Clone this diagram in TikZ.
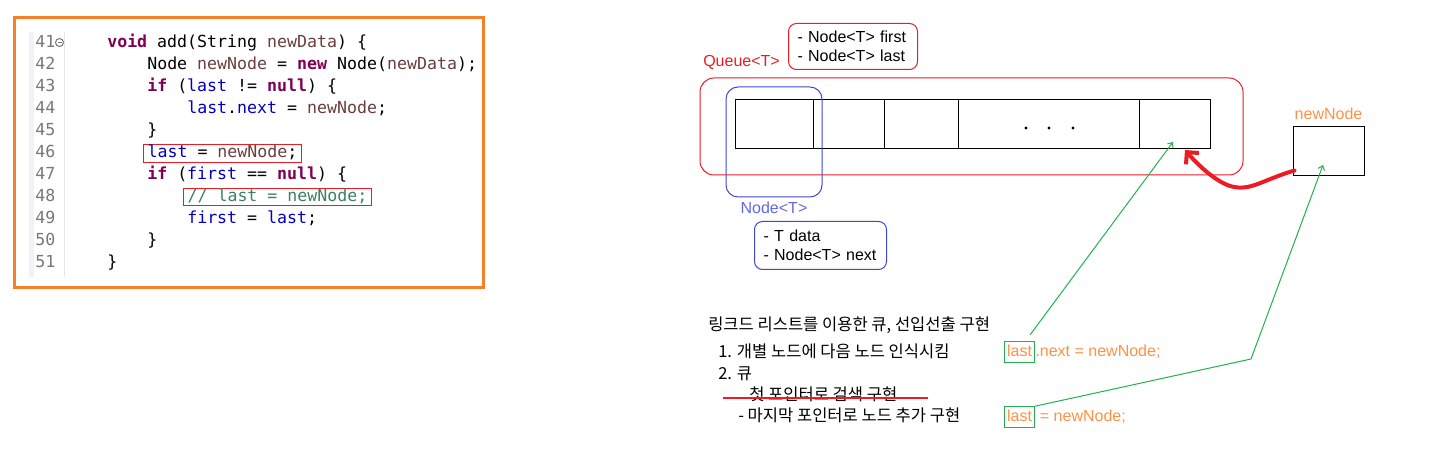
\documentclass[tikz,border=0pt]{standalone}
\usepackage{fontspec}
\setsansfont{Liberation Sans}
\setmonofont{DejaVu Sans Mono}
\newfontfamily\krfont{Noto Sans CJK KR}
\usepackage{xcolor}
\usetikzlibrary{arrows.meta, positioning, calc}

\definecolor{frameorange}{RGB}{245,128,40}
\definecolor{pred}{RGB}{237,28,36}
\definecolor{pblue}{RGB}{63,72,204}
\definecolor{nblue}{RGB}{95,105,230}
\definecolor{porange}{RGB}{255,145,70}
\definecolor{pgreen}{RGB}{34,177,76}
\definecolor{jkwc}{RGB}{127,0,85}
\definecolor{jfldc}{RGB}{0,0,192}
\definecolor{jvarc}{RGB}{106,62,62}
\definecolor{jcmtc}{RGB}{63,127,95}
\definecolor{lnumc}{RGB}{120,120,120}

\newcommand{\jkw}[1]{\textcolor{jkwc}{\textbf{#1}}}
\newcommand{\jfld}[1]{\textcolor{jfldc}{#1}}
\newcommand{\jvar}[1]{\textcolor{jvarc}{#1}}
\newcommand{\jcmt}[1]{\textcolor{jcmtc}{#1}}
\newcommand{\upx}{0.75pt}

\begin{document}
\begin{tikzpicture}[
    x=\upx, y=-\upx,
    code/.style={
        anchor=west,
        inner sep=0pt,
        font=\ttfamily\fontsize{12.45}{15}\selectfont,
        text height=0.75em,
        text depth=0.1em
    },
    hlcode/.style={
        code,
        draw=pred,
        line width=\upx,
        inner xsep=3.4pt,
        inner ysep=2.2pt
    },
    lnum/.style={code, text=lnumc},
    lbl/.style={
        inner sep=0pt,
        font=\sffamily\fontsize{12}{14}\selectfont,
        text height=0.75em,
        text depth=0.1em
    },
    kr/.style={
        anchor=west,
        inner sep=0pt,
        font=\krfont\fontsize{12.4}{15}\selectfont,
        text height=0.85em,
        text depth=0.1em
    },
    fieldbox/.style={
        rectangle,
        rounded corners=6pt,
        line width=\upx,
        align=left,
        anchor=north west,
        inner xsep=6.75pt,
        font=\sffamily\fontsize{12}{13.9}\selectfont
    },
    cell/.style={
        rectangle,
        draw,
        line width=\upx,
        minimum height=36.75pt,
        inner sep=0pt,
        outer sep=0pt
    },
    ptrbox/.style={
        lbl,
        anchor=west,
        draw=pgreen,
        line width=\upx,
        inner xsep=2pt,
        inner ysep=3.5pt
    },
    ptr/.style={
        -{Straight Barb[length=3pt, width=5pt]},
        draw=pgreen,
        line width=\upx
    },
    push/.style={
        -{Straight Barb[length=6.5pt, width=13pt]},
        draw=pred,
        line width=3pt,
        line cap=round
    },
    strike/.style={
        draw=pred,
        line width=1pt
    }
]
\useasboundingbox (0,0) rectangle (1450,466);

% Code listing
\draw[frameorange, line width=2.25pt] (14.5,17.5) rectangle (483.5,287.5);
\fill[gray!10] (29,32) rectangle (34,277);
\draw[gray!20, line width=\upx] (64,32) -- (64,277);

\node[lnum] (ln41) at (35,43) {41};
\node[lnum] (ln42) at (35,65) {42};
\node[lnum] (ln43) at (35,87) {43};
\node[lnum] (ln44) at (35,109) {44};
\node[lnum] (ln45) at (35,131) {45};
\node[lnum] (ln46) at (35,153) {46};
\node[lnum] (ln47) at (35,175) {47};
\node[lnum] (ln48) at (35,197) {48};
\node[lnum] (ln49) at (35,219) {49};
\node[lnum] (ln50) at (35,241) {50};
\node[lnum] (ln51) at (35,263) {51};
\node[circle, draw=lnumc, line width=\upx, inner sep=0pt, minimum size=6pt] (fold) at (59.5,42.5) {};
\draw[lnumc, line width=\upx] ($(fold.center)+(-2,0)$) -- ($(fold.center)+(2,0)$);

\node[code] (c41) at (107,43) {\jkw{void} add(String \jvar{newData}) \{};
\node[code] (c42) at (147,65) {Node \jvar{newNode} = \jkw{new} Node(\jvar{newData});};
\node[code] (c43) at (147,87) {\jkw{if} (\jfld{last} != \jkw{null}) \{};
\node[code] (c44) at (187,109) {\jfld{last}.\jfld{next} = \jvar{newNode};};
\node[code] (c45) at (147,131) {\}};
\node[hlcode] (c46) at (142.5,153.5) {\jfld{last} = \jvar{newNode};};
\node[code] (c47) at (147,175) {\jkw{if} (\jfld{first} == \jkw{null}) \{};
\node[hlcode] (c48) at (182.5,197) {\jcmt{// last = newNode;}};
\node[code] (c49) at (187,219) {\jfld{first} = \jfld{last};};
\node[code] (c50) at (147,241) {\}};
\node[code] (c51) at (107,263) {\}};

% Queue<T>
\node[lbl, anchor=west, text=pred] (qlabel) at (703,62) {Queue<T>};
\node[fieldbox, draw=pred, text width=83.25pt, minimum height=34.5pt] (qfields) at (788,23) {- Node<T> first\\- Node<T> last};
\node[draw=pred, line width=\upx, rounded corners=10.5pt, minimum width=407.25pt, minimum height=72.75pt, inner sep=0pt] (queue) at (971.5,126.5) {};

% cells of the list
\node[cell, anchor=west, minimum width=58.5pt] (cell1) at (735,124.5) {};
\node[cell, minimum width=53.25pt, right=0pt of cell1] (cell2) {};
\node[cell, minimum width=55.5pt, right=0pt of cell2] (cell3) {};
\node[cell, minimum width=135.75pt, right=0pt of cell3] (cell4) {};
\node[cell, minimum width=53.25pt, right=0pt of cell4] (cell5) {};
\fill ($(cell4.center)+(-22.5,3.5)$) circle[radius=1.3pt];
\fill ($(cell4.center)+(0.5,3.5)$) circle[radius=1.3pt];
\fill ($(cell4.center)+(24.5,3.5)$) circle[radius=1.3pt];

% Node<T>
\node[draw=pblue, line width=\upx, rounded corners=9pt, minimum width=72pt, minimum height=82.5pt, inner sep=0pt] (nodebox) at (774,142) {};
\node[lbl, text=nblue, below=4.5pt of nodebox] (nlabel) {Node<T>};
\node[fieldbox, draw=pblue, text width=85.5pt, minimum height=36pt] (nfields) at (754,221) {- T data\\- Node<T> next};

% newNode
\node[draw, line width=\upx, minimum width=53.25pt, minimum height=36.75pt, inner sep=0pt] (newbox) at (1328.5,151.5) {};
\node[lbl, text=porange, above=3.75pt of newbox] (newlabel) {newNode};

% notes
\node[kr] (title) at (708,326) {링크드 리스트를 이용한 큐, 선입선출 구현};
\node[kr] (step1) at (718,353) {1. 개별 노드에 다음 노드 인식시킴};
\node[kr] (step2) at (718,375) {2. 큐};
\node[kr] (step2a) at (749,396) {첫 포인터로 검색 구현};
\node[kr] (step2b) at (738,417) {- 마지막 포인터로 노드 추가 구현};
\draw[strike] ($(step2a.west)+(-26,2)$) -- ($(step2a.east)+(30,2)$);

\node[ptrbox, text=porange] (lastA) at (1004,352) {last};
\node[lbl, anchor=west, text=porange] (nextA) at (lastA.east) {.next = newNode;};
\node[ptrbox, text=porange] (lastB) at (1004,417) {last};
\node[lbl, anchor=west, text=porange] (restB) at (lastB.east) {\ = newNode;};

% pointers
\coordinate (tipA) at ($(cell5.south)+(-1.5,-7)$);
\coordinate (tipB) at ($(newbox.center)+(-5.5,13.5)$);
\coordinate (gbend) at (1251,359);
\coordinate (tipR) at ($(cell5.south)+(10.5,1)$);
\draw[ptr] ($(lastA.north east)+(-5,-6.5)$) -- (tipA);
\draw[ptr] (lastB.north east) -- (gbend) -- (tipB);
\draw[push] ($(newbox.south west)+(2,-6)$) .. controls (1262,180) and (1250,192) .. (1230,186) .. controls (1215,181) and (1198,165) .. (tipR);

\end{tikzpicture}
\end{document}
